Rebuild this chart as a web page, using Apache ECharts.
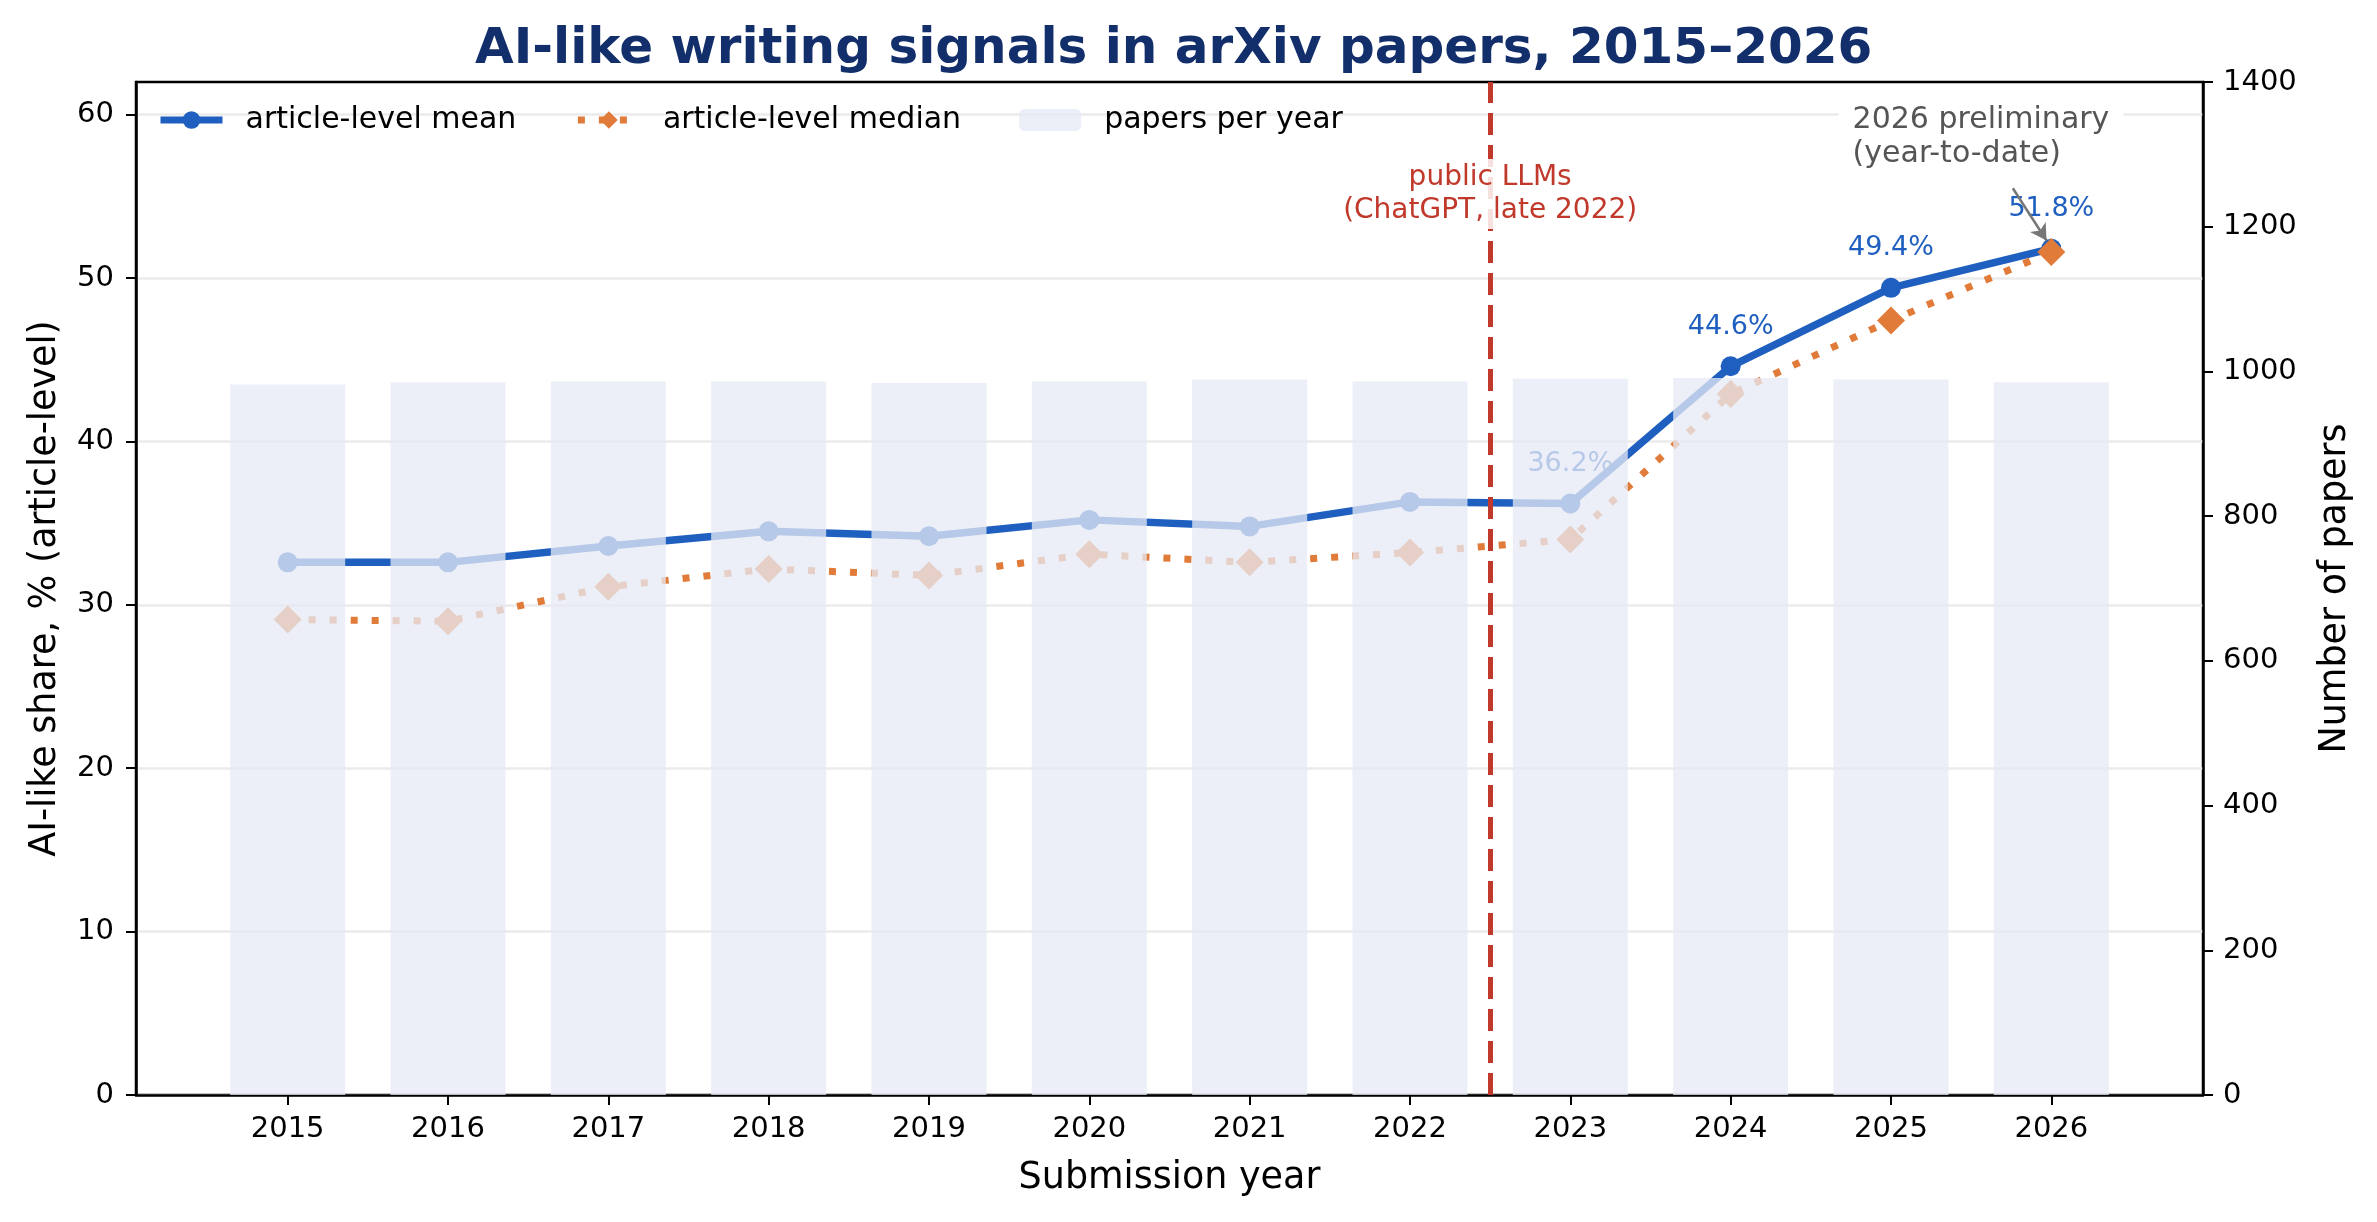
<!DOCTYPE html>
<html>
<head>
<meta charset="utf-8">
<script src="https://cdn.jsdelivr.net/npm/echarts@6/dist/echarts.min.js"></script>
<style>
  html, body { margin: 0; padding: 0; background: #fff; }
  #chart-container { width: 2377px; height: 1222px; }
</style>
</head>
<body>
<div id="chart-container"></div>
<script>
// values
var years = [2015, 2016, 2017, 2018, 2019, 2020, 2021, 2022, 2023, 2024, 2025, 2026];
var meanShare = [32.6, 32.6, 33.6, 34.5, 34.2, 35.2, 34.8, 36.3, 36.2, 44.6, 49.4, 51.8];
var medianShare = [29.1, 29.0, 31.1, 32.2, 31.8, 33.1, 32.6, 33.2, 34.0, 42.9, 47.4, 51.6];
var paperCounts = [982, 985, 986, 986, 984, 986, 989, 986, 990, 991, 989, 985];
var labelledYears = [2023, 2024, 2025, 2026];
var leftTicks = [0, 10, 20, 30, 40, 50, 60];
var llmYear = 2022.5;

var FONT = 'DejaVu Sans';
var BLUE = '#1f5fbf';
var ORANGE = '#e07b39';
var RED = '#c0392b';

var dom = document.getElementById('chart-container');
var myChart = echarts.init(dom, null, { renderer: 'canvas' });

var meanData = years.map(function (y, i) {
    var d = { value: [y, meanShare[i]] };
    if (labelledYears.indexOf(y) >= 0) {
        d.label = { show: true };
    }
    return d;
});
var medianData = years.map(function (y, i) { return [y, medianShare[i]]; });
var barData = years.map(function (y, i) { return [y, paperCounts[i]]; });

var plain = function (v) { return String(v); };

var option = {
    animation: false,
    textStyle: { fontFamily: FONT },
    title: {
        text: 'AI-like writing signals in arXiv papers, 2015–2026',
        left: 470,
        top: 20,
        textStyle: { fontFamily: FONT, fontSize: 50, fontWeight: 'bold', color: '#132f6b' }
    },
    legend: {
        left: 152,
        top: 100,
        itemWidth: 62,
        itemHeight: 22,
        itemGap: 58,
        lineStyle: { width: 7 },
        data: ['article-level mean', 'article-level median', 'papers per year'],
        textStyle: { fontFamily: FONT, fontSize: 30, color: '#000', padding: [0, 0, 0, 18] }
    },
    grid: {
        left: 136,
        right: 174,
        top: 82,
        bottom: 127,
        show: true,
        borderColor: '#000',
        borderWidth: 2.5,
        outerBoundsMode: 'none'
    },
    xAxis: {
        type: 'value',
        min: 2014.054,
        max: 2026.946,
        name: 'Submission year',
        nameLocation: 'middle',
        nameGap: 65,
        nameTextStyle: { fontFamily: FONT, fontSize: 36.5, color: '#000' },
        axisLine: { show: true, lineStyle: { color: '#000', width: 2.5 } },
        axisTick: { show: true, length: 10, customValues: years, lineStyle: { color: '#000', width: 2 } },
        axisLabel: {
            customValues: years,
            margin: 20,
            fontSize: 29,
            color: '#000',
            fontFamily: FONT,
            formatter: plain
        },
        splitLine: { show: false }
    },
    yAxis: [
        {
            type: 'value',
            min: 0,
            max: 62,
            interval: 10,
            name: 'AI-like share, % (article-level)',
            nameLocation: 'middle',
            nameGap: 72,
            nameTextStyle: { fontFamily: FONT, fontSize: 36.5, color: '#000' },
            axisLine: { show: true, lineStyle: { color: '#000', width: 2.5 } },
            axisTick: { show: true, length: 10, customValues: leftTicks, lineStyle: { color: '#000', width: 2 } },
            axisLabel: { customValues: leftTicks, margin: 22, fontSize: 29, color: '#000', fontFamily: FONT, formatter: plain },
            splitLine: { show: true, lineStyle: { color: '#ebebeb', width: 2.5 } }
        },
        {
            type: 'value',
            min: 0,
            max: 1400,
            interval: 200,
            name: 'Number of papers',
            nameLocation: 'middle',
            nameGap: 114,
            nameTextStyle: { fontFamily: FONT, fontSize: 36.5, color: '#000' },
            axisLine: { show: true, lineStyle: { color: '#000', width: 2.5 } },
            axisTick: { show: true, length: 10, lineStyle: { color: '#000', width: 2 } },
            axisLabel: { margin: 20, fontSize: 29, color: '#000', fontFamily: FONT, formatter: plain },
            splitLine: { show: false }
        }
    ],
    series: [
        {
            name: 'article-level mean',
            type: 'line',
            z: 2,
            data: meanData,
            color: BLUE,
            symbol: 'circle',
            symbolSize: 20,
            lineStyle: { width: 7.5, color: BLUE },
            itemStyle: { color: BLUE },
            label: {
                show: false,
                position: 'top',
                distance: 16,
                fontSize: 27,
                fontFamily: FONT,
                color: BLUE,
                formatter: function (p) { return p.value[1].toFixed(1) + '%'; }
            }
        },
        {
            name: 'article-level median',
            type: 'line',
            z: 2,
            data: medianData,
            color: ORANGE,
            symbol: 'diamond',
            symbolSize: 28,
            lineStyle: { width: 7, color: ORANGE, type: [7, 14], cap: 'butt' },
            itemStyle: { color: ORANGE }
        },
        {
            name: 'papers per year',
            type: 'bar',
            yAxisIndex: 1,
            z: 3,
            barWidth: 115,
            data: barData,
            itemStyle: { color: 'rgba(230,234,244,0.76)' }
        },
        {
            // annotations: release marker, notes and arrow
            name: 'notes',
            type: 'line',
            z: 5,
            data: [],
            markLine: {
                silent: true,
                animation: false,
                symbol: 'none',
                label: { show: false },
                data: [
                    { xAxis: llmYear, lineStyle: { color: RED, width: 5, type: [22, 10] } },
                    [
                        { coord: [2025.76, 55.5], symbol: 'none' },
                        { coord: [2025.97, 52.3], symbol: 'arrow', symbolSize: [14, 16] }
                    ]
                ],
                lineStyle: { color: '#777', width: 2.5, type: 'solid' }
            },
            markPoint: {
                silent: true,
                animation: false,
                symbol: 'rect',
                symbolSize: 1,
                itemStyle: { color: 'rgba(0,0,0,0)' },
                data: [
                    {
                        coord: [llmYear, 55.15],
                        label: {
                            show: true,
                            position: 'inside',
                            formatter: 'public LLMs\n(ChatGPT, late 2022)',
                            fontFamily: FONT,
                            fontSize: 28,
                            lineHeight: 33,
                            align: 'center',
                            color: RED,
                            backgroundColor: 'rgba(255,255,255,0.85)',
                            padding: [2, 4]
                        }
                    },
                    {
                        coord: [2024.67, 58.6],
                        label: {
                            show: true,
                            position: 'right',
                            distance: 0,
                            formatter: '2026 preliminary\n(year-to-date)',
                            fontFamily: FONT,
                            fontSize: 30,
                            lineHeight: 34,
                            align: 'left',
                            color: '#555',
                            backgroundColor: '#fff',
                            padding: [2, 14]
                        }
                    }
                ]
            }
        }
    ]
};

myChart.setOption(option);
window.addEventListener('resize', myChart.resize);
</script>
</body>
</html>
